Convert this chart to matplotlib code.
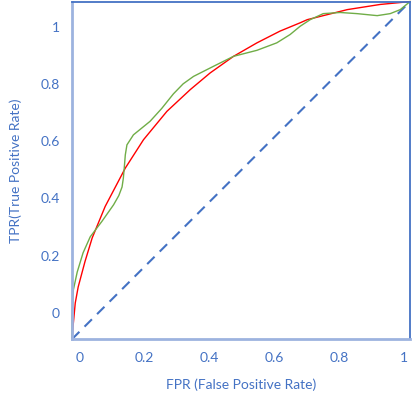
import matplotlib

matplotlib.use("Agg")

import matplotlib.pyplot as plt  # noqa: E402

# values (tick coordinates)
red_fpr = [-0.022, -0.019, -0.012, -0.003, 0.018, 0.040, 0.080, 0.142, 0.198,
           0.270, 0.342, 0.403, 0.475, 0.547, 0.618, 0.680, 0.702, 0.825,
           0.926, 1.018]
red_tpr = [-0.091, -0.049, 0.035, 0.091, 0.180, 0.262, 0.372, 0.506, 0.605,
           0.704, 0.780, 0.838, 0.896, 0.943, 0.984, 1.013, 1.024, 1.059,
           1.077, 1.087]

green_fpr = [-0.022, -0.022, -0.018, -0.006, 0.012, 0.034, 0.070, 0.106, 0.122,
             0.132, 0.136, 0.139, 0.142, 0.147, 0.167, 0.218, 0.254, 0.290,
             0.320, 0.352, 0.413, 0.475, 0.547, 0.608, 0.649, 0.680, 0.711,
             0.751, 0.803, 0.855, 0.917, 0.957, 0.988, 1.018]
green_tpr = [-0.091, -0.014, 0.080, 0.143, 0.210, 0.266, 0.320, 0.378, 0.410,
             0.440, 0.471, 0.510, 0.552, 0.587, 0.622, 0.669, 0.714, 0.765,
             0.800, 0.826, 0.861, 0.896, 0.917, 0.943, 0.972, 1.001, 1.024,
             1.045, 1.049, 1.045, 1.038, 1.045, 1.059, 1.087]

diag_fpr = [-0.022, 1.018]
diag_tpr = [-0.091, 1.087]

ticks = [0, 0.2, 0.4, 0.6, 0.8, 1]
tick_labels = ["0", "0.2", "0.4", "0.6", "0.8", "1"]

blue = "#4472C4"
plt.rcParams["font.family"] = ["Lato", "DejaVu Sans"]

fig = plt.figure(figsize=(4.15, 3.99), dpi=100)
ax = fig.add_axes([0.1735, 0.150, 0.8145, 0.846])

ax.plot(diag_fpr, diag_tpr, color=blue, linewidth=1.5, dashes=(5, 3.5), clip_on=False)
ax.plot(red_fpr, red_tpr, color="#FF0000", linewidth=1.0, clip_on=False)
ax.plot(green_fpr, green_tpr, color="#70AD47", linewidth=1.0, clip_on=False)

ax.set_xlim(diag_fpr[0], diag_fpr[1])
ax.set_ylim(diag_tpr[0], diag_tpr[1])
ax.set_xticks(ticks)
ax.set_xticklabels(tick_labels)
ax.set_yticks(ticks)
ax.set_yticklabels(tick_labels)
ax.tick_params(length=0, labelsize=10, labelcolor=blue)
ax.tick_params(axis="x", pad=9)
ax.tick_params(axis="y", pad=9)

for side in ("left", "bottom"):
    ax.spines[side].set_color("#9DB3DF")
    ax.spines[side].set_linewidth(2.0)
for side in ("top", "right"):
    ax.spines[side].set_color(blue)
    ax.spines[side].set_linewidth(1.3)

ax.set_xlabel("FPR (False Positive Rate)", color=blue, fontsize=10, labelpad=11)
ax.set_ylabel("TPR(True Positive Rate)", color=blue, fontsize=10, labelpad=13)

fig.savefig("out.png", dpi=100)
